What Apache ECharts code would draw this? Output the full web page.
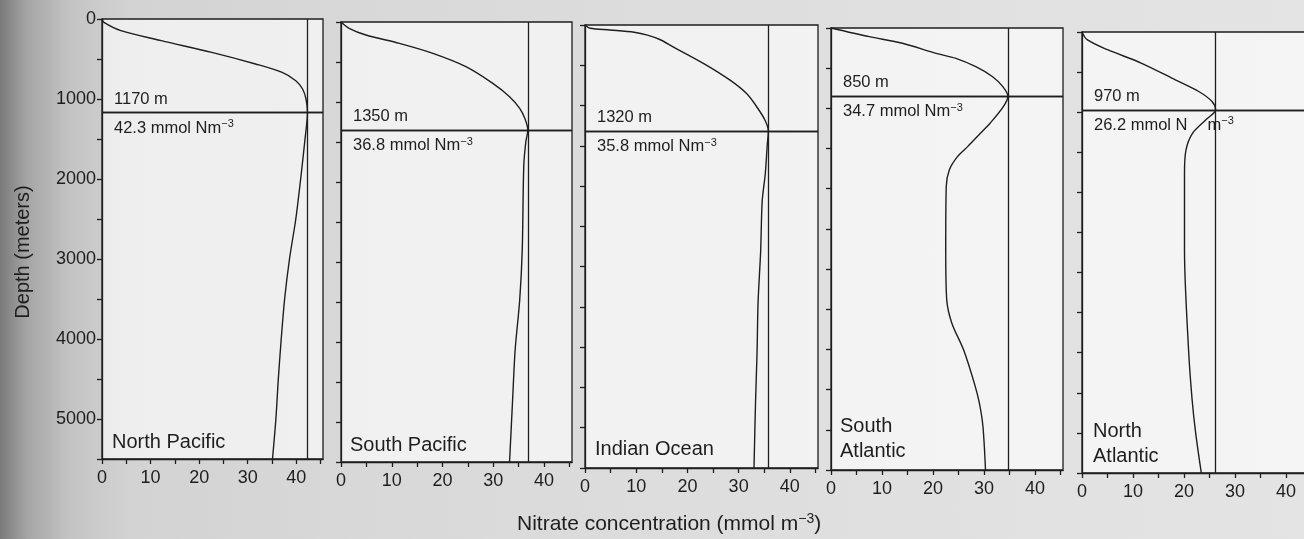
<!DOCTYPE html>
<html>
<head>
<meta charset="utf-8">
<script src="https://cdn.jsdelivr.net/npm/echarts@6/dist/echarts.min.js"></script>
<style>
html,body{margin:0;padding:0;}
#c{width:1304px;height:539px;background:linear-gradient(to right,#7a7a7a 0px,#a6a6a6 28px,#c4c4c4 70px,#d3d3d3 130px,#d9d9d9 400px,#e0e0e0 900px,#e4e4e4 1304px);}
</style>
</head>
<body>
<div id="c"></div>
<script>
// ---- data ----
const regions = ['North Pacific', 'South Pacific', 'Indian Ocean', 'South\nAtlantic', 'North\nAtlantic'];
const nitraclineDepth = [1170, 1350, 1320, 850, 970];
const nitraclineConc = [42.3, 36.8, 35.8, 34.7, 26.2];

const npDepth   = [0, 42, 146, 271, 417, 562, 667, 771, 875, 1000, 1170, 1500, 2000, 2500, 3000, 3500, 4000, 4500, 5000, 5500];
const npNitrate = [0, 0.4, 3.9, 12.2, 22.6, 31.6, 37.1, 39.9, 41.3, 42.0, 42.3, 41.8, 40.9, 39.9, 38.6, 37.6, 36.9, 36.3, 35.8, 35.1];

const spDepth   = [0, 79, 163, 267, 392, 558, 767, 933, 1079, 1204, 1350, 1500, 1800, 2850, 3475, 4100, 4725, 5500];
const spNitrate = [0, 1.6, 4.9, 11.5, 18.1, 24.6, 29.9, 33.2, 35.2, 36.2, 36.8, 36.4, 36.0, 35.7, 35.2, 34.3, 33.8, 33.2];

const ioDepth   = [0, 41, 62, 90, 125, 180, 271, 479, 688, 854, 1021, 1188, 1320, 1480, 1850, 2190, 2810, 3440, 4060, 4690, 5500];
const ioNitrate = [0, 1.0, 4.9, 9.6, 12.2, 14.6, 17.2, 23.2, 28.4, 31.6, 33.6, 35.2, 35.8, 35.6, 35.2, 34.6, 34.3, 33.8, 33.6, 33.3, 33.0];

const saDepth   = [0, 108, 190, 315, 377, 481, 606, 730, 850, 979, 1185, 1310, 1476, 1600, 1766, 1974, 2761, 3383, 3673, 4005, 4419, 4668, 4959, 5500];
const saNitrate = [0, 7.5, 14.0, 20.6, 24.5, 28.4, 31.7, 33.7, 34.7, 33.8, 31.2, 29.3, 26.8, 24.8, 23.2, 22.6, 22.5, 22.7, 23.7, 26.0, 28.1, 29.1, 29.8, 30.3];

const naDepth   = [0, 96, 221, 387, 596, 742, 867, 970, 1095, 1261, 1469, 1760, 2718, 3966, 4590, 5006, 5500];
const naNitrate = [0, 1.0, 5.0, 11.6, 18.3, 22.9, 25.5, 26.2, 24.3, 21.7, 20.4, 20.1, 20.1, 20.9, 21.6, 22.3, 23.4];

const xTickValues  = [0, 5, 10, 15, 20, 25, 30, 35, 40, 45];
const xLabelValues = [0, 10, 20, 30, 40];
const yTickValues  = [0, 500, 1000, 1500, 2000, 2500, 3000, 3500, 4000, 4500, 5000, 5500];
const yLabelValues = [0, 1000, 2000, 3000, 4000, 5000];
const depthProfiles = [npDepth, spDepth, ioDepth, saDepth, naDepth];
const nitrateProfiles = [npNitrate, spNitrate, ioNitrate, saNitrate, naNitrate];

// ---- layout ----
const FONT = 'Liberation Sans, Arial, Helvetica, sans-serif';
const INK = '#1e1e1e';
const gridBoxes = [
  {left: 102, top: 19, width: 221, height: 440},
  {left: 341, top: 22, width: 231, height: 440},
  {left: 585, top: 25, width: 233, height: 443},
  {left: 831, top: 28, width: 232, height: 442},
  {left: 1082, top: 32, width: 232, height: 441}
];
const titlePos = [
  {left: 112, top: 430},
  {left: 350, top: 433},
  {left: 595, top: 437},
  {left: 840, top: 414},
  {left: 1093, top: 419}
];

const chart = echarts.init(document.getElementById('c'), null, {renderer: 'canvas'});

const grids = [], xAxes = [], yAxes = [], series = [], titles = [];
const sup = {fontSize: 11, lineHeight: 10, verticalAlign: 'top', color: INK, fontFamily: FONT, fontWeight: 'normal'};
const base = {fontSize: 16.5, lineHeight: 19, color: INK, fontFamily: FONT, fontWeight: 'normal'};

for (let i = 0; i < 5; i++) {
  grids.push(Object.assign({
    show: true, borderColor: INK, borderWidth: 1.3,
    backgroundColor: 'rgba(255,255,255,0.62)', containLabel: false, outerBoundsMode: 'none'
  }, gridBoxes[i]));
  xAxes.push({
    gridIndex: i, type: 'value', min: 0, max: 45.5,
    axisLine: {show: true, onZero: false, lineStyle: {color: INK, width: 1.3}},
    axisTick: {show: true, length: 5, customValues: xTickValues, lineStyle: {color: INK, width: 1.3}},
    axisLabel: {show: true, customValues: xLabelValues, fontSize: 18, color: INK, fontFamily: FONT, margin: 10,
      formatter: v => String(v)},
    splitLine: {show: false}
  });
  yAxes.push({
    gridIndex: i, type: 'value', min: 0, max: 5500, inverse: true,
    axisLine: {show: true, onZero: false, lineStyle: {color: INK, width: 1.3}},
    axisTick: {show: true, length: 5, customValues: yTickValues, lineStyle: {color: INK, width: 1.3}},
    axisLabel: {show: i === 0, customValues: yLabelValues, fontSize: 18, color: INK, fontFamily: FONT, margin: 6,
      formatter: v => String(v)},
    splitLine: {show: false}
  });
  const dep = depthProfiles[i], nit = nitrateProfiles[i];
  const belowText = i === 4
    ? '{a|' + nitraclineConc[i].toFixed(1) + ' mmol N}{g|}{a|m}{s|−3}'
    : '{a|' + nitraclineConc[i].toFixed(1) + ' mmol Nm}{s|−3}';
  series.push({
    type: 'line', xAxisIndex: i, yAxisIndex: i,
    data: dep.map((d, k) => [nit[k], d]),
    showSymbol: false, symbol: 'none',
    smooth: 0.3,
    lineStyle: {color: INK, width: 1.4},
    silent: true,
    markLine: {
      silent: true, symbol: ['none', 'none'], animation: false,
      lineStyle: {color: INK, type: 'solid', width: 1.3},
      label: {show: false},
      data: [
        {xAxis: nitraclineConc[i]},
        {yAxis: nitraclineDepth[i], label: {show: true, position: 'insideStartTop', distance: [12, 5],
          formatter: nitraclineDepth[i] + ' m', fontSize: 16.5, color: INK, fontFamily: FONT}},
        {yAxis: nitraclineDepth[i], label: {show: true, position: 'insideStartBottom', distance: [12, 6],
          formatter: belowText, rich: {a: base, s: sup, g: {width: 20}}}}
      ]
    }
  });
  titles.push(Object.assign({
    text: regions[i], padding: 0,
    textStyle: {fontSize: 20, fontWeight: 'normal', color: INK, fontFamily: FONT, lineHeight: 25}
  }, titlePos[i]));
}

titles.push({
  text: '{a|Nitrate concentration (mmol m}{s|−3}{a|)}', left: 517, top: 512, padding: 0,
  textStyle: {fontWeight: 'normal', rich: {
    a: {fontSize: 21, lineHeight: 24, color: INK, fontFamily: FONT, fontWeight: 'normal'},
    s: {fontSize: 14, lineHeight: 13, verticalAlign: 'top', color: INK, fontFamily: FONT, fontWeight: 'normal'}
  }}
});

chart.setOption({
  animation: false,
  backgroundColor: 'transparent',
  title: titles,
  grid: grids,
  xAxis: xAxes,
  yAxis: yAxes,
  series: series,
  graphic: [{
    type: 'text', x: 23, y: 252, rotation: Math.PI / 2,
    style: {text: 'Depth (meters)', font: '20px ' + FONT, fill: INK, align: 'center', verticalAlign: 'middle'}
  }]
});
</script>
</body>
</html>
